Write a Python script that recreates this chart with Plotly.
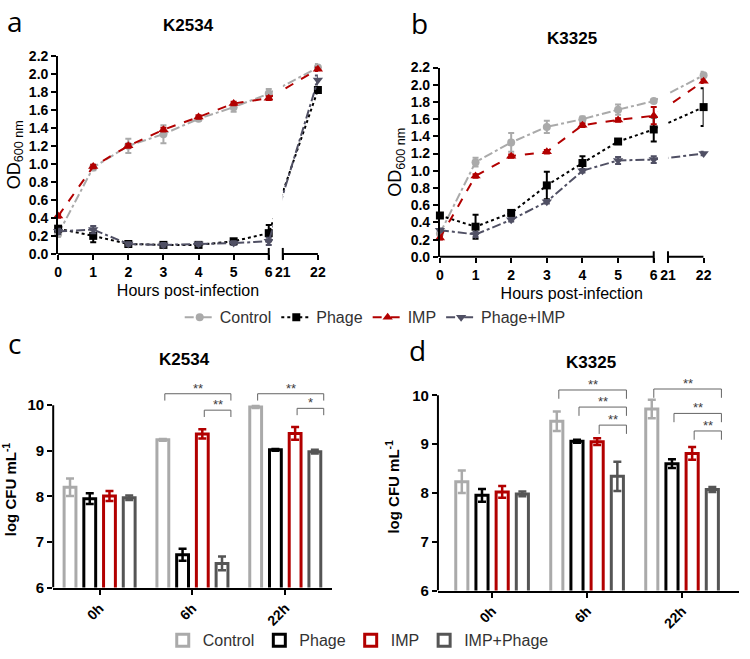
import plotly.graph_objects as go

# ---------------- data ----------------
hours = [0, 1, 2, 3, 4, 5, 6, 22]
hour_ticks = [0, 1, 2, 3, 4, 5, 6, 21, 22]
series_names = ["Control", "Phage", "IMP", "Phage+IMP"]

# Panel a (K2534) OD600
a_control = [0.22, 0.96, 1.20, 1.33, 1.50, 1.63, 1.78, 2.07]
a_control_err = [0.03, 0.03, 0.08, 0.10, 0.02, 0.05, 0.05, 0.04]
a_phage = [0.28, 0.20, 0.11, 0.10, 0.10, 0.14, 0.23, 1.82]
a_phage_err = [0.03, 0.07, 0.02, 0.02, 0.02, 0.02, 0.09, 0.03]
a_imp = [0.42, 0.97, 1.20, 1.38, 1.52, 1.67, 1.73, 2.05]
a_imp_err = [0.02, 0.02, 0.02, 0.02, 0.02, 0.02, 0.02, 0.02]
a_pimp = [0.25, 0.27, 0.11, 0.10, 0.11, 0.12, 0.14, 1.93]
a_pimp_err = [0.03, 0.04, 0.02, 0.02, 0.02, 0.02, 0.04, 0.05]

# Panel b (K3325) OD600
b_control = [0.27, 1.10, 1.33, 1.51, 1.60, 1.71, 1.81, 2.11]
b_control_err = [0.03, 0.05, 0.11, 0.07, 0.03, 0.06, 0.02, 0.04]
b_phage = [0.48, 0.35, 0.51, 0.83, 1.09, 1.34, 1.48, 1.74]
b_phage_err = [0.02, 0.14, 0.03, 0.16, 0.08, 0.02, 0.14, 0.22]
b_imp = [0.22, 0.94, 1.17, 1.22, 1.53, 1.59, 1.64, 2.04]
b_imp_err = [0.02, 0.02, 0.02, 0.02, 0.02, 0.02, 0.10, 0.02]
b_pimp = [0.31, 0.26, 0.43, 0.64, 1.00, 1.12, 1.13, 1.20]
b_pimp_err = [0.02, 0.03, 0.02, 0.02, 0.02, 0.04, 0.04, 0.02]

# Panels c / d: log CFU mL-1
times = ["0h", "6h", "22h"]
bar_names = ["Control", "Phage", "IMP", "IMP+Phage"]
c_control = [8.20, 9.24, 9.96]
c_control_err = [0.19, 0.02, 0.02]
c_phage = [7.95, 6.72, 9.02]
c_phage_err = [0.12, 0.13, 0.02]
c_imp = [8.01, 9.37, 9.38]
c_imp_err = [0.11, 0.10, 0.14]
c_impphage = [7.97, 6.53, 8.98]
c_impphage_err = [0.05, 0.15, 0.04]

d_control = [8.23, 9.47, 9.72]
d_control_err = [0.23, 0.20, 0.19]
d_phage = [7.95, 9.06, 8.60]
d_phage_err = [0.13, 0.03, 0.09]
d_imp = [8.02, 9.05, 8.81]
d_imp_err = [0.12, 0.07, 0.13]
d_impphage = [7.98, 8.34, 8.07]
d_impphage_err = [0.05, 0.30, 0.05]

# significance brackets: (time index, first bar, last bar, height, label)
c_sig = [(1, 0, 3, 10.25, "**"), (1, 2, 3, 9.89, "**"),
         (2, 0, 3, 10.25, "**"), (2, 2, 3, 9.93, "*")]
d_sig = [(1, 0, 3, 10.11, "**"), (1, 1, 3, 9.76, "**"), (1, 2, 3, 9.39, "**"),
         (2, 0, 3, 10.13, "**"), (2, 1, 3, 9.63, "**"), (2, 2, 3, 9.27, "**")]

# ---------------- style ----------------
W, H = 750, 659
FONT = "Liberation Sans, Arial, sans-serif"
line_colors = ["rgb(170,170,170)", "rgb(0,0,0)", "rgb(178,0,0)", "rgb(80,80,100)"]
line_dash = ["dashdot", "dot", "dash", "dashdot"]
symbols = ["circle", "square", "triangle-up", "triangle-down"]
msize = [8, 8, 9, 9]
bar_colors = ["rgb(170,170,170)", "rgb(0,0,0)", "rgb(178,0,0)", "rgb(85,85,85)"]

BREAK_GAP = 0.4


def hpos(h):
    """Broken time scale: 0-6 h, then 21-22 h after a small gap."""
    return h if h <= 6 else 6 + BREAK_GAP + (h - 21)


def xdom(p0, p1):
    return [p0 / W, p1 / W]


def ydom(top, bottom):
    return [1 - bottom / H, 1 - top / H]


fig = go.Figure()

line_sets = [
    ("x", "y", [a_control, a_phage, a_imp, a_pimp],
     [a_control_err, a_phage_err, a_imp_err, a_pimp_err], True),
    ("x2", "y2", [b_control, b_phage, b_imp, b_pimp],
     [b_control_err, b_phage_err, b_imp_err, b_pimp_err], False),
]
for xa, ya, vals, errs, show in line_sets:
    for i, name in enumerate(series_names):
        fig.add_trace(go.Scatter(
            x=[hpos(h) for h in hours], y=vals[i], name=name,
            mode="lines+markers", xaxis=xa, yaxis=ya,
            line=dict(color=line_colors[i], dash=line_dash[i], width=2),
            marker=dict(symbol=symbols[i], size=msize[i], color=line_colors[i]),
            error_y=dict(type="data", array=errs[i], color=line_colors[i],
                         thickness=2, width=3),
            cliponaxis=False, showlegend=show, legend="legend"))

bar_sets = [
    ("x3", "y3", [c_control, c_phage, c_imp, c_impphage],
     [c_control_err, c_phage_err, c_imp_err, c_impphage_err], True),
    ("x4", "y4", [d_control, d_phage, d_imp, d_impphage],
     [d_control_err, d_phage_err, d_imp_err, d_impphage_err], False),
]
for xa, ya, vals, errs, show in bar_sets:
    for i, name in enumerate(bar_names):
        fig.add_trace(go.Bar(
            x=times, y=vals[i], name=name, xaxis=xa, yaxis=ya,
            marker=dict(color="white", line=dict(color=bar_colors[i], width=3)),
            error_y=dict(type="data", array=errs[i], color=bar_colors[i],
                         thickness=2.5, width=4),
            showlegend=show, legend="legend2"))

tick_font = dict(family=FONT, size=14, color="black", weight="bold")
title_font = dict(family=FONT, size=16, color="black")

common_x_line = dict(showgrid=False, zeroline=False, ticks="outside", ticklen=5,
                     tickwidth=2, tickcolor="black", tickfont=tick_font)

# Panel a / b axes
for xa, ya, xd, yd in [("xaxis", "yaxis", xdom(55, 319), ydom(49, 252)),
                       ("xaxis2", "yaxis2", xdom(443, 711), ydom(61, 255))]:
    fig.layout[xa] = dict(
        domain=xd, range=[0, hpos(22)], anchor=ya.replace("axis", ""),
        tickvals=[hpos(h) for h in hour_ticks],
        ticktext=[str(h) for h in hour_ticks], showline=False,
        title=dict(text="Hours post-infection", font=title_font, standoff=6),
        **common_x_line)
    fig.layout[ya] = dict(
        domain=yd, range=[0, 2.2], anchor=xa.replace("axis", ""),
        tickvals=[round(0.2 * k, 1) for k in range(12)],
        ticktext=[f"{0.2 * k:.1f}" for k in range(12)],
        showline=True, linecolor="black", linewidth=2, showgrid=False,
        zeroline=False, ticks="outside", ticklen=5, tickwidth=2,
        tickcolor="black", tickfont=tick_font,
        title=dict(text="OD<sub>600 nm</sub>",
                   font=dict(family=FONT, size=18, color="black"), standoff=4))

# Panel c / d axes
for xa, ya, xd, yd, xr, yr in [
        ("xaxis3", "yaxis3", xdom(50, 333), ydom(393, 594), [-0.5, 2.5], [6, 10.3]),
        ("xaxis4", "yaxis4", xdom(441, 747), ydom(384.5, 597), [-0.57, 2.6], [6, 10.25])]:
    fig.layout[xa] = dict(
        domain=xd, range=xr, anchor=ya.replace("axis", ""), type="category",
        showline=True, linecolor="black", linewidth=2, tickangle=-45,
        showgrid=False, zeroline=False, ticks="outside", ticklen=5,
        tickwidth=2, tickcolor="black",
        tickfont=dict(family=FONT, size=14, color="black", weight="bold"))
    fig.layout[ya] = dict(
        domain=yd, range=yr, anchor=xa.replace("axis", ""),
        tickvals=[6, 7, 8, 9, 10], showline=False, showgrid=False,
        zeroline=False, ticks="outside", ticklen=5, tickwidth=2,
        tickcolor="black", tickfont=dict(family=FONT, size=15, color="black", weight="bold"),
        title=dict(text="log CFU mL<sup>-1</sup>",
                   font=dict(family=FONT, size=15, color="black", weight="bold"),
                   standoff=8))

shapes = []
# broken x axes for a / b
for xr, yr in [("x", "y"), ("x2", "y2")]:
    shapes.append(dict(type="rect", xref=xr, yref=yr + " domain",
                       x0=6.12, x1=hpos(21), y0=0.006, y1=1.0,
                       fillcolor="white", line=dict(width=0), layer="above"))
    shapes.append(dict(type="line", xref=xr, yref=yr + " domain", x0=0, x1=6,
                       y0=0, y1=0, line=dict(color="black", width=2), layer="above"))
    shapes.append(dict(type="line", xref=xr, yref=yr + " domain", x0=hpos(21),
                       x1=hpos(22), y0=0, y1=0, line=dict(color="black", width=2),
                       layer="above"))
    for h in (6, 21):
        shapes.append(dict(type="line", xref=xr, yref=yr + " domain", x0=hpos(h),
                           x1=hpos(h), y0=-0.03, y1=0.03,
                           line=dict(color="black", width=2), layer="above"))

# y axis lines for c / d (stop at 10)
for xr, yr in [("x3", "y3"), ("x4", "y4")]:
    shapes.append(dict(type="line", xref=xr + " domain", yref=yr, x0=0, x1=0,
                       y0=6, y1=10, line=dict(color="black", width=2), layer="above"))

annotations = []
# significance brackets
slot = (1 - 0.15) / 4


def bar_center(t, i):
    return t + (i - 1.5) * slot


for xr, yr, sig, drop in [("x3", "y3", c_sig, 0.15), ("x4", "y4", d_sig, 0.18)]:
    for t, i0, i1, hgt, lab in sig:
        xa0 = bar_center(t, i0) + 0.1 * slot
        xa1 = bar_center(t, i1) + 0.45 * slot
        shapes.append(dict(type="path", xref=xr, yref=yr,
                           path=f"M {xa0},{hgt - drop} L {xa0},{hgt} L {xa1},{hgt} L {xa1},{hgt - drop}",
                           line=dict(color="rgb(100,100,100)", width=1)))
        annotations.append(dict(xref=xr, yref=yr, x=(xa0 + xa1) / 2, y=hgt,
                                text=lab, showarrow=False, yanchor="bottom",
                                yshift=-4,
                                font=dict(family=FONT, size=13, color="rgb(60,60,60)")))

# panel letters and titles
for txt, x, y in [("a", 11, 13), ("b", 422, 15), ("c", 11, 343), ("d", 420, 350)]:
    annotations.append(dict(xref="paper", yref="paper", x=x / W, y=1 - y / H,
                            text=txt, showarrow=False, xanchor="center", yanchor="middle",
                            font=dict(family="Open Sans, DejaVu Sans, sans-serif",
                                      size=28, color="black")))
for txt, x, y in [("K2534", 187, 18), ("K3325", 577, 31),
                  ("K2534", 183, 360), ("K3325", 597, 363)]:
    annotations.append(dict(xref="paper", yref="paper", x=x / W, y=1 - y / H,
                            text=txt, showarrow=False, xanchor="center", yanchor="middle",
                            font=dict(family=FONT, size=17, color="black", weight="bold")))

fig.update_layout(
    width=W, height=H, autosize=False,
    margin=dict(l=0, r=0, t=0, b=0),
    paper_bgcolor="white", plot_bgcolor="white",
    barmode="group", bargap=0.15, bargroupgap=0.4,
    shapes=shapes, annotations=annotations,
    legend=dict(orientation="h", x=0.503, xanchor="center", y=1 - 317 / H,
                yanchor="middle", font=dict(family=FONT, size=16, color="rgb(50,50,50)"),
                bgcolor="rgba(0,0,0,0)"),
    legend2=dict(orientation="h", x=0.48, xanchor="center", y=1 - 648 / H,
                 yanchor="middle", font=dict(family=FONT, size=16, color="rgb(50,50,50)"),
                 bgcolor="rgba(0,0,0,0)"),
)

fig.write_html("out.html", config={"displayModeBar": False},
               post_script="document.body.style.margin='0px';document.body.style.overflow='hidden';")
